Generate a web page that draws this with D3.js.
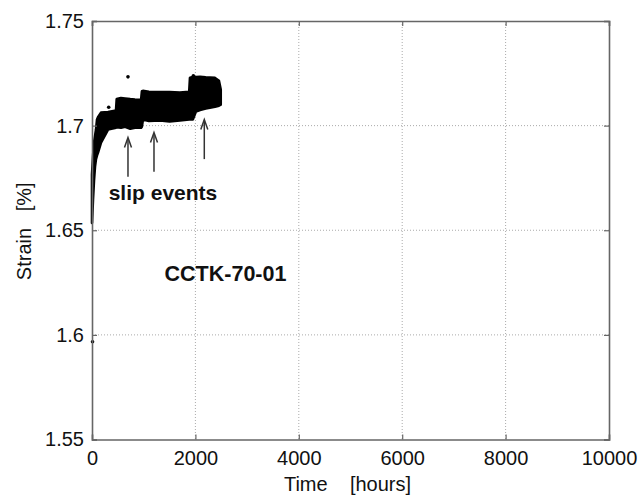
<!DOCTYPE html>
<html>
<head>
<meta charset="utf-8">
<script src="https://cdn.jsdelivr.net/npm/d3@7/dist/d3.min.js"></script>
<style>
  html, body { margin: 0; padding: 0; background: #fff; }
  svg { display: block; }
  text { font-family: "Liberation Sans", Arial, Helvetica, sans-serif; fill: #111; }
</style>
</head>
<body>
<svg id="chart" width="642" height="495"></svg>
<script>
// Creep record: the cloud of logged strain samples, described by its
// lower / upper envelope over time (hours, strain %).
const bandTime  = [0, 19, 39, 58, 77, 97, 116, 174, 310, 464, 478, 560, 640, 740, 830, 950, 965, 985, 1100, 1315, 1500, 1700, 1880, 1895, 1950, 2010, 2090, 2200, 2280, 2380, 2455, 2490];
const bandLower = [1.6535, 1.6646, 1.6740, 1.6804, 1.6840, 1.6858, 1.6871, 1.6919, 1.6981, 1.6990, 1.6992, 1.6990, 1.6995, 1.6985, 1.6990, 1.6990, 1.6995, 1.7029, 1.7022, 1.7025, 1.7020, 1.7025, 1.7029, 1.7029, 1.7029, 1.7067, 1.7075, 1.7082, 1.7086, 1.7090, 1.7095, 1.7100];
const bandUpper = [1.6766, 1.6850, 1.6919, 1.6950, 1.6980, 1.7029, 1.7040, 1.7062, 1.7065, 1.7072, 1.7127, 1.7132, 1.7130, 1.7127, 1.7125, 1.7124, 1.7164, 1.7166, 1.7162, 1.7161, 1.7160, 1.7158, 1.7162, 1.7229, 1.7232, 1.7232, 1.7233, 1.7231, 1.7230, 1.7228, 1.7214, 1.7172];

// Isolated samples outside the main cloud
const outlierTime   = [696, 323, 10, 1960];
const outlierStrain = [1.7233, 1.7088, 1.5967, 1.7238];

// Slip-event arrows: time, tail strain, tip strain
const arrowTime = [696, 1199, 2172];
const arrowTail = [1.6756, 1.6780, 1.6840];
const arrowTip  = [1.6943, 1.6967, 1.7029];

const xTicks = [0, 2000, 4000, 6000, 8000, 10000];
const yTicks = [1.55, 1.6, 1.65, 1.7, 1.75];
const yTickLabels = ["1.55", "1.6", "1.65", "1.7", "1.75"];

const svg = d3.select("#chart");
const margin = { left: 92, right: 33, top: 21, bottom: 55.5 };
const W = 642, H = 495;
const x = d3.scaleLinear().domain([0, 10000]).range([margin.left, W - margin.right]);
const y = d3.scaleLinear().domain([1.55, 1.75]).range([H - margin.bottom, margin.top]);

const axisColor = "#666";

// dotted grid
const grid = svg.append("g");
grid.selectAll("line.gx").data(xTicks.slice(1, -1)).join("line")
  .attr("x1", d => x(d)).attr("x2", d => x(d))
  .attr("y1", y.range()[1]).attr("y2", y.range()[0])
  .attr("stroke", "#aaa").attr("stroke-width", 1).attr("stroke-dasharray", "1,2");
grid.selectAll("line.gy").data(yTicks.slice(1, -1)).join("line")
  .attr("x1", x.range()[0]).attr("x2", x.range()[1])
  .attr("y1", d => y(d)).attr("y2", d => y(d))
  .attr("stroke", "#aaa").attr("stroke-width", 1).attr("stroke-dasharray", "1,2");

// strain cloud
const rows = bandTime.map((t, i) => ({ t, lo: bandLower[i], hi: bandUpper[i] }));
const area = d3.area()
  .x(d => x(d.t))
  .y0(d => y(d.lo))
  .y1(d => y(d.hi))
  .curve(d3.curveLinear);
svg.append("path")
  .datum(rows)
  .attr("d", area)
  .attr("fill", "#000")
  .attr("stroke", "#000")
  .attr("stroke-width", 2.6)
  .attr("stroke-linejoin", "round");

svg.append("g").selectAll("circle")
  .data(outlierTime.map((t, i) => ({ t, s: outlierStrain[i] })))
  .join("circle")
  .attr("cx", d => x(d.t)).attr("cy", d => y(d.s)).attr("r", 1.8)
  .attr("fill", "#000");

// axes (box with inward ticks)
const tickLen = -5;
const gx = svg.append("g").attr("transform", `translate(0,${y.range()[0]})`)
  .call(d3.axisBottom(x).tickValues(xTicks).tickFormat(d3.format("d")).tickSize(tickLen).tickPadding(11));
const gxTop = svg.append("g").attr("transform", `translate(0,${y.range()[1]})`)
  .call(d3.axisTop(x).tickValues(xTicks).tickFormat("").tickSize(tickLen));
const gy = svg.append("g").attr("transform", `translate(${x.range()[0]},0)`)
  .call(d3.axisLeft(y).tickValues(yTicks).tickFormat((d, i) => yTickLabels[i]).tickSize(tickLen).tickPadding(8));
const gyRight = svg.append("g").attr("transform", `translate(${x.range()[1]},0)`)
  .call(d3.axisRight(y).tickValues(yTicks).tickFormat("").tickSize(tickLen));

[gx, gxTop, gy, gyRight].forEach(g => {
  g.select(".domain").attr("stroke", axisColor).attr("stroke-width", 1.6);
  g.selectAll(".tick line").attr("stroke", axisColor).attr("stroke-width", 1.2);
  g.selectAll(".tick text").attr("font-size", 20).attr("fill", "#111")
    .style("font-family", '"Liberation Sans", Arial, sans-serif');
});

// axis titles
svg.append("text")
  .attr("x", (x.range()[0] + x.range()[1]) / 2 - 3)
  .attr("y", 491)
  .attr("text-anchor", "middle")
  .attr("font-size", 20)
  .attr("xml:space", "preserve")
  .style("white-space", "pre")
  .text("Time    [hours]");

svg.append("text")
  .attr("transform", `translate(31,${(y.range()[0] + y.range()[1]) / 2 + 1}) rotate(-90)`)
  .attr("text-anchor", "middle")
  .attr("font-size", 20)
  .attr("xml:space", "preserve")
  .style("white-space", "pre")
  .text("Strain   [%]");

// slip-event arrows
const arrows = svg.append("g").attr("stroke", "#333").attr("stroke-width", 1.5).attr("fill", "none");
arrowTime.forEach((t, i) => {
  const ax = x(t), y0 = y(arrowTail[i]), y1 = y(arrowTip[i]);
  arrows.append("line").attr("x1", ax).attr("x2", ax).attr("y1", y0).attr("y2", y1 + 1);
  arrows.append("path")
    .attr("d", `M${ax - 3.5},${y1 + 10} L${ax},${y1} L${ax + 3.5},${y1 + 10}`)
    .attr("stroke-linejoin", "miter");
});

// annotations
svg.append("text")
  .attr("x", x(1373)).attr("y", y(1.6646))
  .attr("text-anchor", "middle")
  .attr("font-size", 21).attr("font-weight", "bold")
  .text("slip events");

svg.append("text")
  .attr("x", x(2582)).attr("y", y(1.6258))
  .attr("text-anchor", "middle")
  .attr("font-size", 21.5).attr("font-weight", "bold")
  .text("CCTK-70-01");
</script>
</body>
</html>
